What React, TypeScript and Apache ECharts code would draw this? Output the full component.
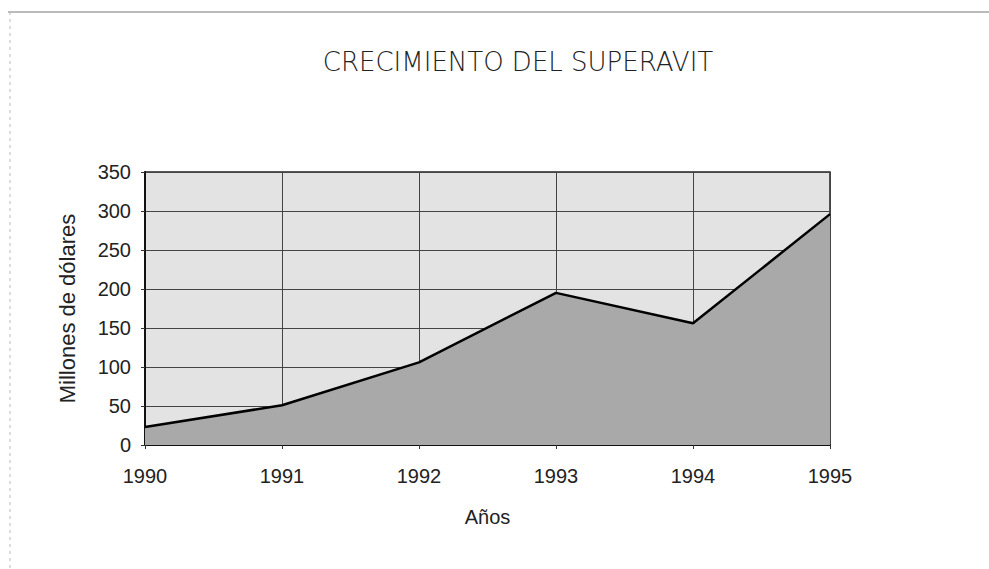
import React, { useEffect, useRef } from "react";
import * as echarts from "echarts";

const years = ["1990", "1991", "1992", "1993", "1994", "1995"];
const superavit = [23, 51, 106, 195, 156, 296];
const yTicks = { min: 0, max: 350, interval: 50 };

export default function App() {
  const ref = useRef<HTMLDivElement>(null);
  useEffect(() => {
    if (!ref.current) return;
    const chart = echarts.init(ref.current, null, { renderer: "svg" });
    chart.setOption({
      animation: false,
      backgroundColor: "#ffffff",
      title: {
        text: "CRECIMIENTO DEL SUPERAVIT",
        left: 513,
        textAlign: "center",
        top: 44,
        textStyle: { fontFamily: "DejaVu Sans", fontWeight: 300, fontSize: 26, color: "#222" },
      },
      graphic: [
        { type: "line", shape: { x1: 8, y1: 12, x2: 989, y2: 12 }, style: { stroke: "#777", lineWidth: 1 } },
        { type: "line", shape: { x1: 10, y1: 12, x2: 10, y2: 569 }, style: { stroke: "#bbb", lineWidth: 1, lineDash: [3, 4] } },
      ],
      grid: { left: 145, right: 159, top: 172, bottom: 124, show: true, backgroundColor: "#e3e3e3", borderColor: "#222", borderWidth: 1.5 },
      xAxis: {
        type: "category",
        data: years,
        boundaryGap: false,
        name: "Años",
        nameLocation: "middle",
        nameGap: 62,
        nameTextStyle: { fontFamily: "Liberation Sans", fontSize: 20, color: "#222" },
        axisLine: { lineStyle: { color: "#111", width: 2 } },
        axisTick: { show: true, length: 4, lineStyle: { color: "#333" } },
        axisLabel: { fontFamily: "Liberation Sans", fontSize: 20, color: "#222", margin: 21 },
        splitLine: { show: true, lineStyle: { color: "#444", width: 1 } },
      },
      yAxis: {
        type: "value",
        min: yTicks.min,
        max: yTicks.max,
        interval: yTicks.interval,
        name: "Millones de dólares",
        nameLocation: "middle",
        nameGap: 67,
        nameTextStyle: { fontFamily: "Liberation Sans", fontSize: 22, color: "#222" },
        axisLine: { show: true, lineStyle: { color: "#111", width: 2 } },
        axisTick: { show: true, length: 4, lineStyle: { color: "#333" } },
        axisLabel: { fontFamily: "Liberation Sans", fontSize: 20, color: "#222", margin: 14 },
        splitLine: { show: true, lineStyle: { color: "#444", width: 1 } },
      },
      series: [
        {
          type: "line",
          data: superavit,
          symbol: "none",
          lineStyle: { color: "#000", width: 2.5 },
          areaStyle: { color: "#a9a9a9", opacity: 1 },
        },
      ],
    });
    return () => chart.dispose();
  }, []);
  return <div ref={ref} style={{ position: "fixed", left: 0, top: 0, width: 989, height: 569 }} />;
}
